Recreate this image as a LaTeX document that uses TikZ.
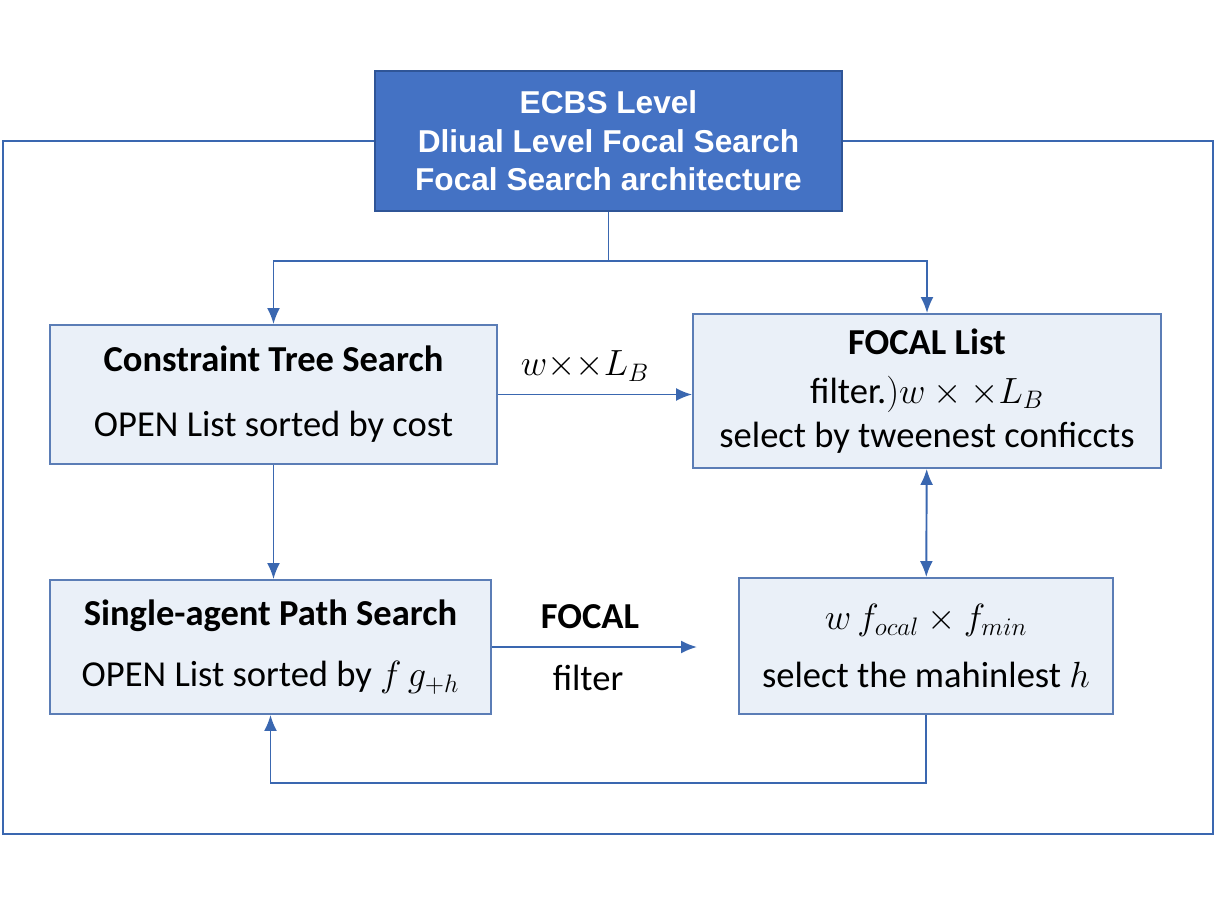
\documentclass[tikz,border=0pt]{standalone}
\usepackage{amsmath}
\usepackage{fontspec}
\setmainfont{Carlito}
\newfontfamily\headfont{Liberation Sans}
\usetikzlibrary{positioning,arrows.meta}
\definecolor{headblue}{HTML}{4472C4}
\definecolor{headedge}{HTML}{2F5597}
\definecolor{boxfill}{HTML}{EAF0F8}
\definecolor{boxedge}{HTML}{5B7DB6}
\definecolor{linkblue}{HTML}{3A67B0}
\tikzset{
  flowarrow/.style={-{Latex[length=3.2mm,width=2.6mm]}, line width=1.1pt, draw=linkblue},
  botharrow/.style={{Latex[length=3.2mm,width=2.6mm]}-{Latex[length=3.2mm,width=2.6mm]}, line width=1.1pt, draw=linkblue},
  headbox/.style={draw=headedge, line width=1.2pt, fill=headblue, text=white, minimum width=9.34cm, minimum height=2.8cm, align=center, font=\headfont\bfseries\fontsize{18}{22}\selectfont},
  stagebox/.style={draw=boxedge, line width=1.1pt, fill=boxfill, align=center, font=\fontsize{20.8}{24}\selectfont},
  edgelabel/.style={font=\fontsize{20.8}{24}\selectfont, inner sep=1pt}
}
\begin{document}
\begin{tikzpicture}[x=0.02cm, y=-0.02cm]
  \useasboundingbox (0,0) rectangle (1216,912);
  \node[headbox] (head) at (608.5,141) {ECBS Level\\ Dliual Level Focal Search\\ Focal Search architecture};
  \node[stagebox, minimum width=8.94cm, minimum height=2.78cm] (cts) at (273.5,394.5) {\textbf{Constraint Tree Search}\\[13pt] OPEN List sorted by cost};
  \node[stagebox, minimum width=9.36cm, minimum height=3.08cm] (focal) at (927,391) {\textbf{FOCAL List}\\[4pt] filter.$)w \times\times L_B$\\[1pt] select by tweenest conficcts};
  \node[stagebox, minimum width=8.82cm, minimum height=2.68cm] (saps) at (270.5,647) {\textbf{Single-agent Path Search}\\[11pt] OPEN List sorted by $f\,g_{+h}$};
  \node[stagebox, minimum width=7.48cm, minimum height=2.72cm] (wf) at (926,646) {$w\,f_{ocal}\times f_{min}$\\[9pt] select the mahinlest $h$};
  \coordinate (split) at (608.5,261);
  \coordinate (fend) at (697,647);
  \coordinate (loop) at (926,783);
  % edge labels
  \node[edgelabel] (wlb) at (585,366) {$w{\times}{\times}L_B$};
  \node[edgelabel] (foc) at (590,617) {\textbf{FOCAL}};
  \node[edgelabel] (filt) at (588,678) {filter};
  % outer frame
  \draw[draw=linkblue, line width=1.1pt] (head.west) -- (3,141) -- (3,834) -- (1213,834) -- (1213,141) -- (head.east);
  % connectors
  \draw[draw=linkblue, line width=1.1pt] (head) -- (split);
  \draw[flowarrow] (split) -| (cts);
  \draw[flowarrow] (split) -| (focal);
  \draw[flowarrow] (cts.east) -- (cts.east -| focal.west);
  \draw[flowarrow] (cts.south) -- (cts.south |- saps.north);
  \draw[botharrow] (focal) -- (wf);
  \draw[flowarrow] (saps.east) -- (fend);
  \draw[flowarrow] (wf) -- (loop) -| (saps);
\end{tikzpicture}
\end{document}
